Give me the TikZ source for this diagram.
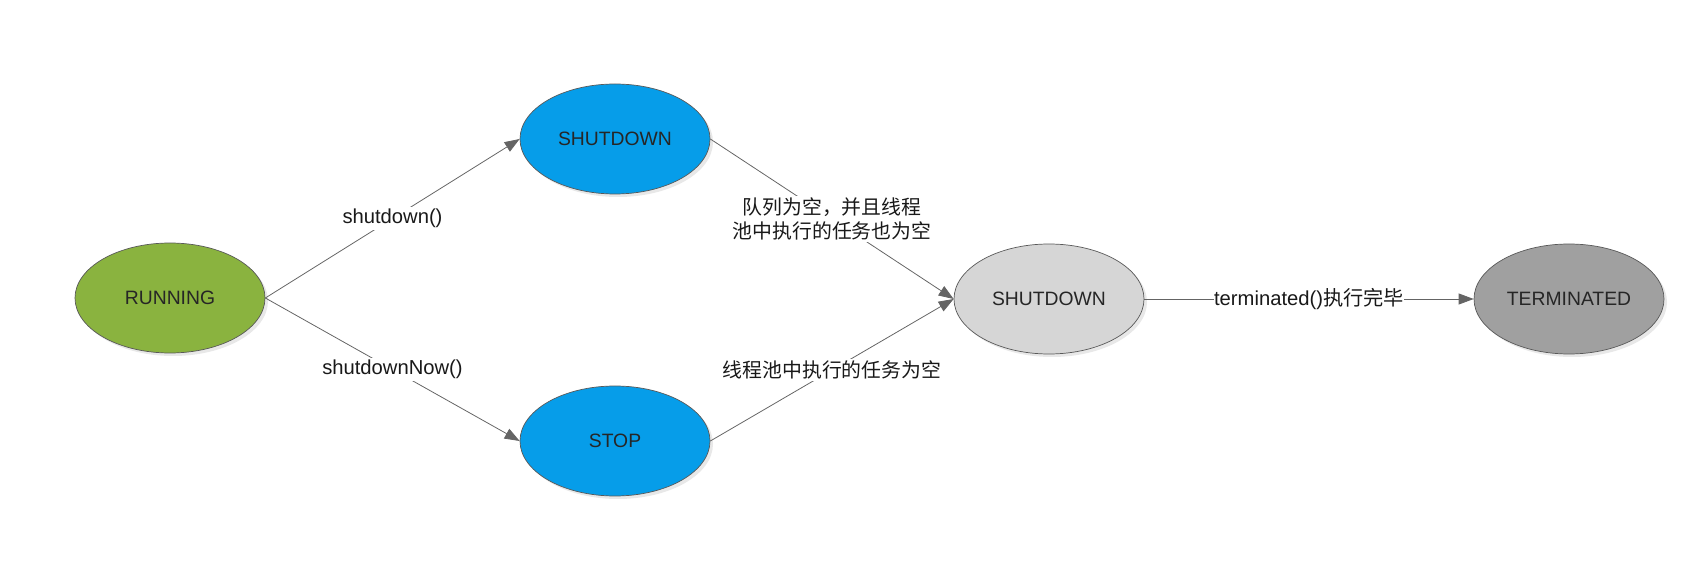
\documentclass[tikz,border=0pt]{standalone}
\usepackage{fontspec}
\setmainfont{Liberation Sans}
\newfontfamily\cjk{Noto Sans CJK SC}
\usepackage{tikz}
\usetikzlibrary{positioning, arrows.meta, shapes.geometric, shadows}

\definecolor{rungreen}{RGB}{138,179,63}
\definecolor{sdblue}{RGB}{6,157,233}
\definecolor{tidygray}{RGB}{214,214,214}
\definecolor{termgray}{RGB}{160,160,160}
\definecolor{edgegray}{RGB}{100,100,100}

\begin{document}
\begin{tikzpicture}[
  state/.style={ellipse, draw=black!65, line width=0.4pt, minimum width=3.8cm, minimum height=2.2cm, inner sep=0pt,
    text=black!85, font=\fontsize{11}{13}\selectfont,
    drop shadow={opacity=0.18, shadow xshift=0.06cm, shadow yshift=-0.06cm}},
  arr/.style={-{Triangle[length=3mm, width=2.2mm]}, draw=edgegray, line width=0.45pt},
  lbl/.style={fill=white, inner sep=1pt, align=center, text=black!90, font=\fontsize{11.5}{13.5}\selectfont}
]
  \useasboundingbox (0,0) rectangle (34,11.4);
  \node[state, fill=rungreen] (run) at (3.40,5.44) {RUNNING};
  \node[state, fill=sdblue] (sd) at (12.30,8.62) {SHUTDOWN};
  \node[state, fill=sdblue] (stop) at (12.30,2.58) {STOP};
  \node[state, fill=tidygray] (tidy) at (20.98,5.42) {SHUTDOWN};
  \node[state, fill=termgray] (term) at (31.38,5.42) {TERMINATED};
  \draw[arr] (run.east) -- (sd.west) node[lbl, midway] (l1) {shutdown()};
  \draw[arr] (run.east) -- (stop.west) node[lbl, midway] (l2) {shutdownNow()};
  \draw[arr] (sd.east) -- (tidy.west) node[lbl, midway, font=\cjk\fontsize{11.3}{13.5}\selectfont] (l3) {队列为空，并且线程\\池中执行的任务也为空};
  \draw[arr] (stop.east) -- (tidy.west) node[lbl, midway, font=\cjk\fontsize{11.3}{13.5}\selectfont] (l4) {线程池中执行的任务为空};
  \draw[arr] (tidy.east) -- (term.west) node[lbl, midway, inner sep=0pt] (l5) {terminated(){\cjk 执行完毕}};
\end{tikzpicture}
\end{document}
